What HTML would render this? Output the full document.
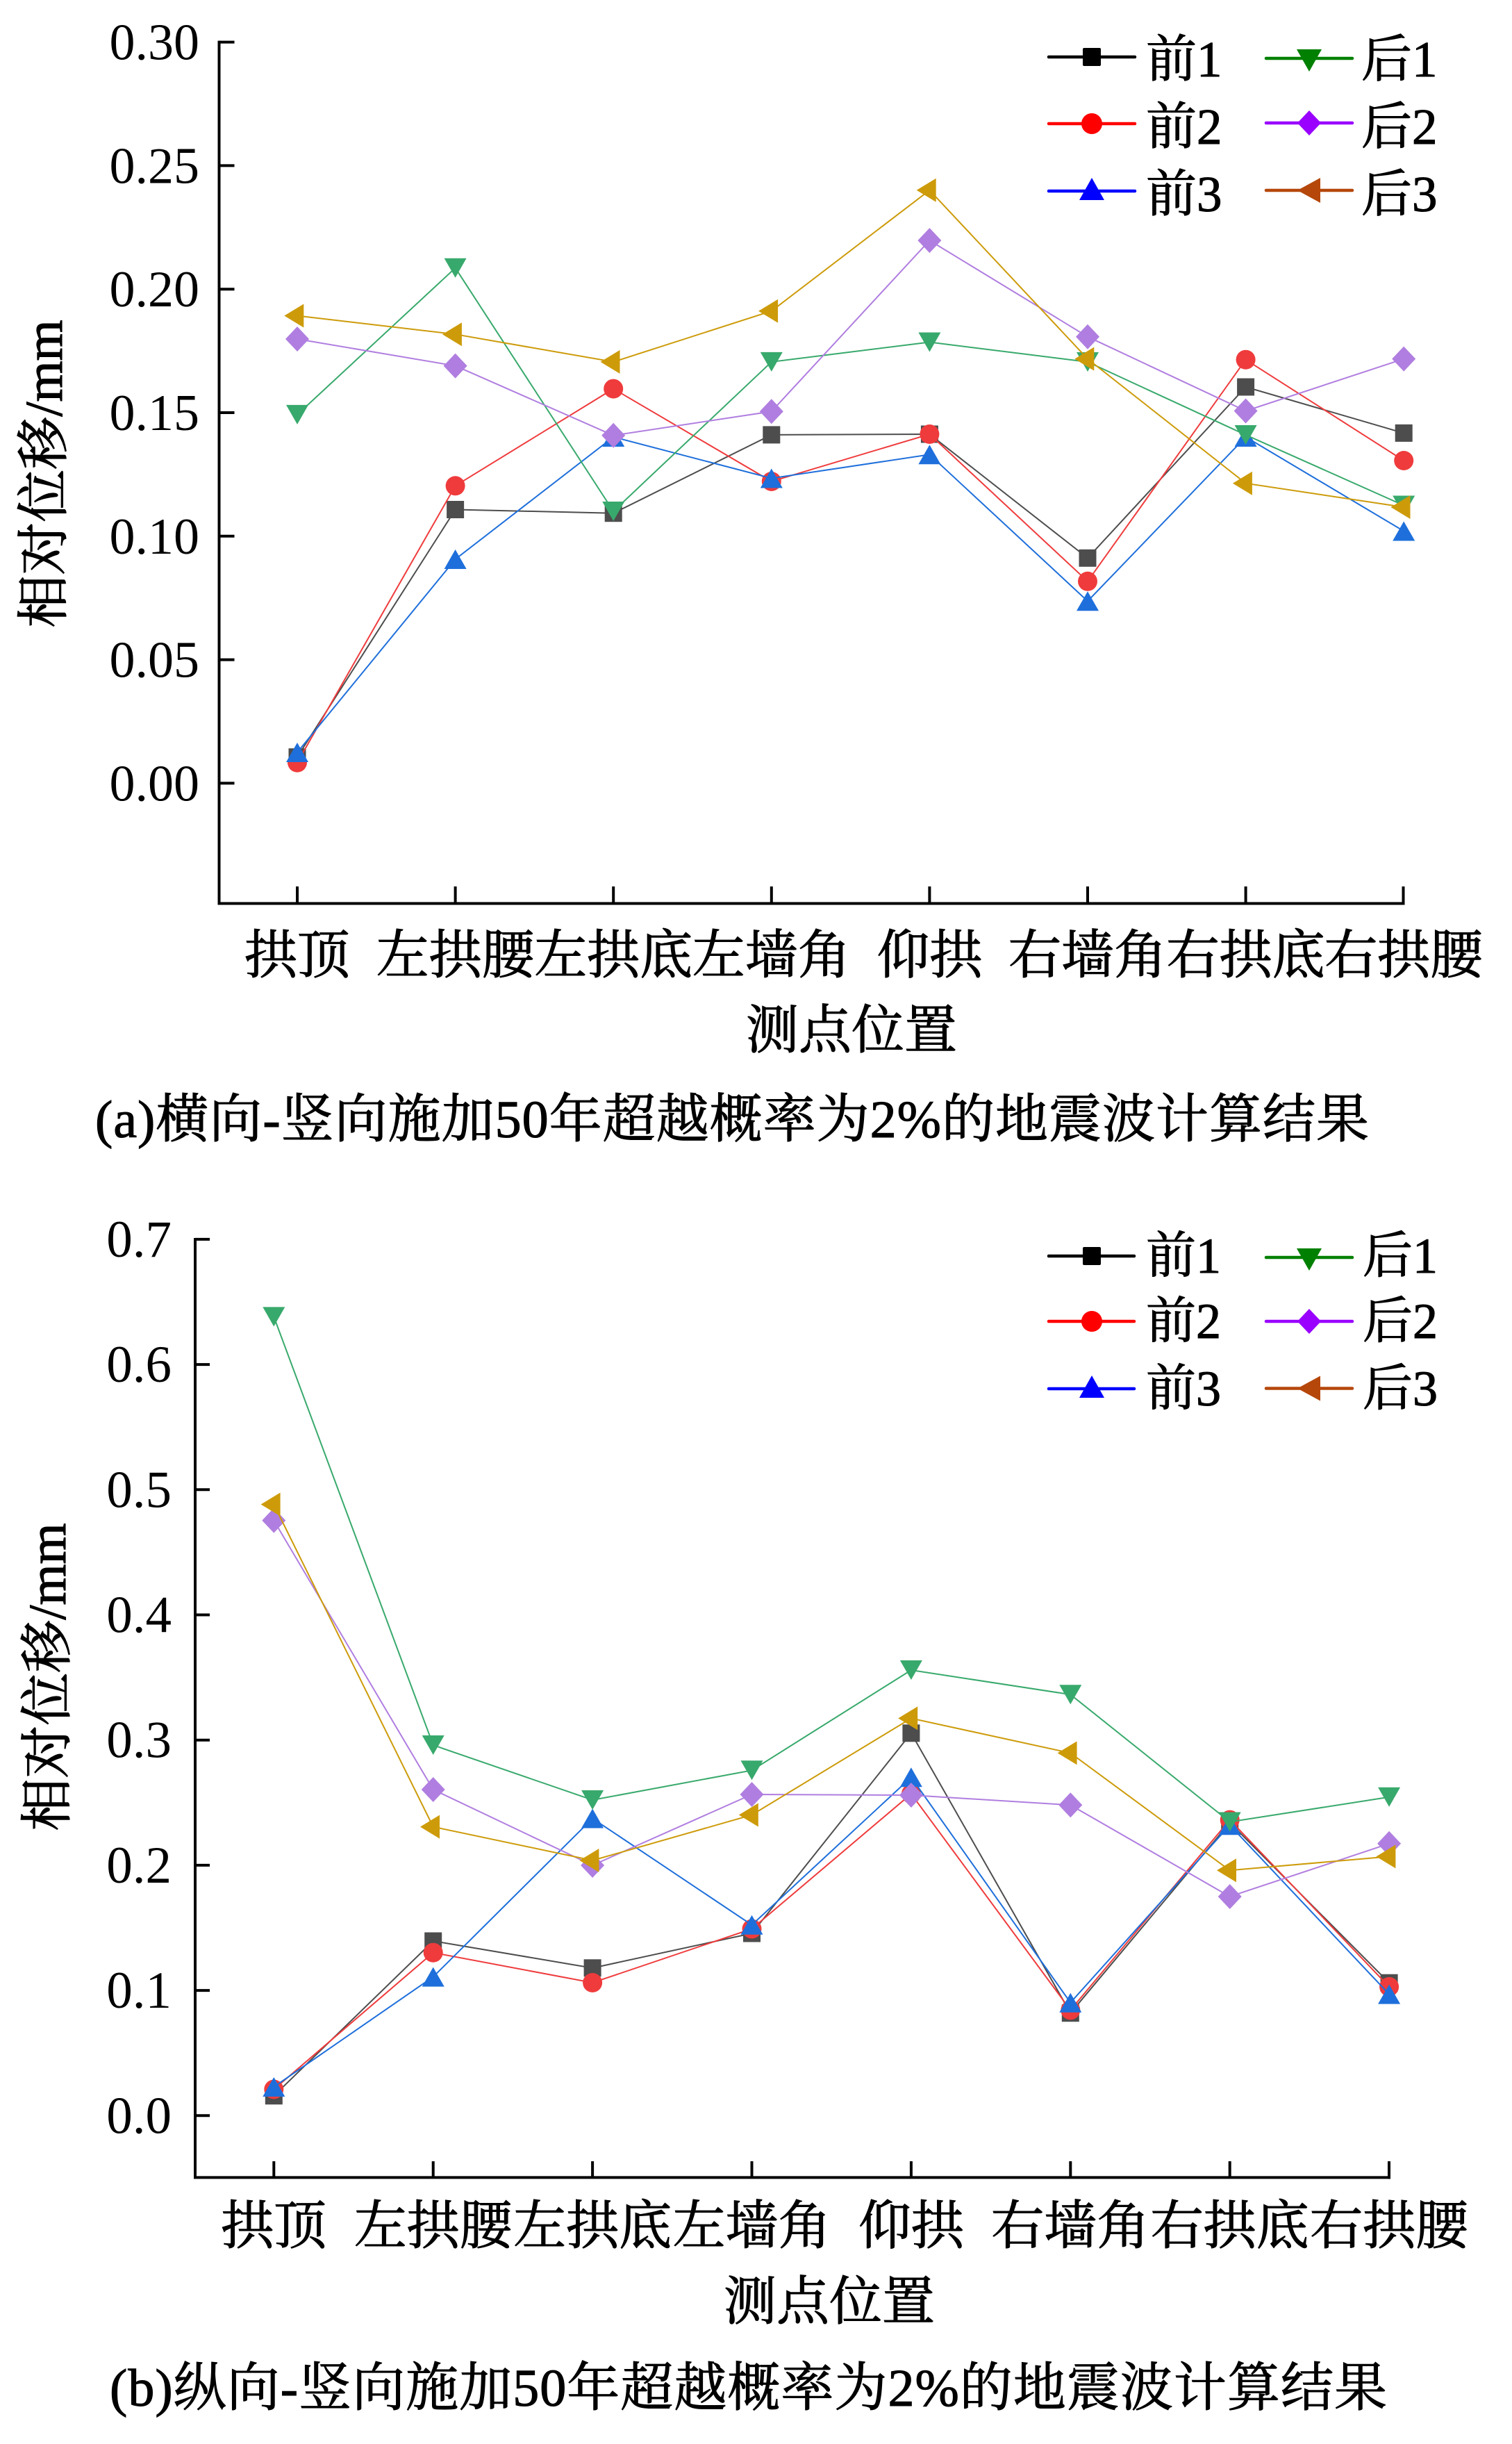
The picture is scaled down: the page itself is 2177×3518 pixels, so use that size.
<!DOCTYPE html>
<html><head><meta charset="utf-8"><style>
html,body{margin:0;padding:0;background:#fff}
svg{display:block}
text{font-family:"Liberation Serif","Noto Serif CJK SC",serif;fill:#000}
.cj{stroke:#000;stroke-width:1.1}
</style></head><body>
<svg xmlns="http://www.w3.org/2000/svg" xmlns:xlink="http://www.w3.org/1999/xlink" width="2177" height="3518" viewBox="0 0 2177 3518">
<defs>
<rect id="sq" x="-12.5" y="-12.5" width="25" height="25"/>
<circle id="ci" r="14"/>
<polygon id="tu" points="0,-14 16,14 -16,14"/>
<polygon id="td" points="-16,-14 16,-14 0,14"/>
<polygon id="di" points="0,-18 17,0 0,18 -17,0"/>
<polygon id="tl" points="-18.7,0 9.3,-17 9.3,17"/>
<rect id="lsq" x="-13" y="-13" width="26" height="26" rx="2"/>
<circle id="lci" r="15"/>
<polygon id="ltu" points="0,-17 18,15 -18,15"/>
<polygon id="ltd" points="-18,-15 18,-15 0,17"/>
<polygon id="ldi" points="0,-18 17,0 0,18 -17,0"/>
<polygon id="ltl" points="-17,0 16,-18 16,18"/>
</defs>
<rect width="2177" height="3518" fill="#fff"/>

<!-- ================= CHART A ================= -->
<g stroke="#000" stroke-width="4" fill="none">
<polyline points="315.5,58.6 315.5,1300.5 2022.5,1300.5"/>
<line x1="315.5" y1="60.6" x2="337.5" y2="60.6"/>
<line x1="315.5" y1="238.4" x2="337.5" y2="238.4"/>
<line x1="315.5" y1="416.2" x2="337.5" y2="416.2"/>
<line x1="315.5" y1="594" x2="337.5" y2="594"/>
<line x1="315.5" y1="771.8" x2="337.5" y2="771.8"/>
<line x1="315.5" y1="949.6" x2="337.5" y2="949.6"/>
<line x1="315.5" y1="1127.4" x2="337.5" y2="1127.4"/>
<line x1="428" y1="1300.5" x2="428" y2="1276"/>
<line x1="655.6" y1="1300.5" x2="655.6" y2="1276"/>
<line x1="883.2" y1="1300.5" x2="883.2" y2="1276"/>
<line x1="1110.8" y1="1300.5" x2="1110.8" y2="1276"/>
<line x1="1338.4" y1="1300.5" x2="1338.4" y2="1276"/>
<line x1="1566" y1="1300.5" x2="1566" y2="1276"/>
<line x1="1793.6" y1="1300.5" x2="1793.6" y2="1276"/>
<line x1="2020.5" y1="1302.5" x2="2020.5" y2="1276"/>
</g>
<g font-size="74" text-anchor="end">
<text x="287" y="85.6">0.30</text>
<text x="287" y="263.4">0.25</text>
<text x="287" y="441.2">0.20</text>
<text x="287" y="619">0.15</text>
<text x="287" y="796.8">0.10</text>
<text x="287" y="974.6">0.05</text>
<text x="287" y="1152.4">0.00</text>
</g>
<text class="cj" font-size="76" text-anchor="middle" transform="translate(89,682) rotate(-90)">相对位移/mm</text>
<g font-size="76" text-anchor="middle" class="cj">
<text x="428" y="1401">拱顶</text>
<text x="655.6" y="1401">左拱腰</text>
<text x="883.2" y="1401">左拱底</text>
<text x="1110.8" y="1401">左墙角</text>
<text x="1338.4" y="1401">仰拱</text>
<text x="1566" y="1401">右墙角</text>
<text x="1793.6" y="1401">右拱底</text>
<text x="2021.2" y="1401">右拱腰</text>
</g>
<text class="cj" font-size="76" text-anchor="middle" x="1226" y="1509">测点位置</text>
<text class="cj" font-size="76" x="137" y="1637" textLength="1834" lengthAdjust="spacing">(a)横向-竖向施加50年超越概率为2%的地震波计算结果</text>

<!-- series a -->
<polyline stroke="#4d4d4d" stroke-width="2" fill="none" points="428,1089.7 655.6,733.5 883.2,738.7 1110.8,625.9 1338.4,625 1566,803.3 1793.6,557 2021.2,623.4"/>
<g fill="#4d4d4d">
<use href="#sq" x="428" y="1089.7"/><use href="#sq" x="655.6" y="733.5"/><use href="#sq" x="883.2" y="738.7"/><use href="#sq" x="1110.8" y="625.9"/><use href="#sq" x="1338.4" y="625"/><use href="#sq" x="1566" y="803.3"/><use href="#sq" x="1793.6" y="557"/><use href="#sq" x="2021.2" y="623.4"/>
</g>
<polyline stroke="#ef3b3c" stroke-width="2" fill="none" points="428,1097.7 655.6,699.3 883.2,559.6 1110.8,693 1338.4,625 1566,836.8 1793.6,517.7 2021.2,663"/>
<g fill="#ef3b3c">
<use href="#ci" x="428" y="1097.7"/><use href="#ci" x="655.6" y="699.3"/><use href="#ci" x="883.2" y="559.6"/><use href="#ci" x="1110.8" y="693"/><use href="#ci" x="1338.4" y="625"/><use href="#ci" x="1566" y="836.8"/><use href="#ci" x="1793.6" y="517.7"/><use href="#ci" x="2021.2" y="663"/>
</g>
<polyline stroke="#1e6fdb" stroke-width="2" fill="none" points="428,1083 655.6,805 883.2,629 1110.8,688.5 1338.4,654.3 1566,865.3 1793.6,629 2021.2,764.5"/>
<g fill="#1e6fdb">
<use href="#tu" x="428" y="1083"/><use href="#tu" x="655.6" y="805"/><use href="#tu" x="883.2" y="629"/><use href="#tu" x="1110.8" y="688.5"/><use href="#tu" x="1338.4" y="654.3"/><use href="#tu" x="1566" y="865.3"/><use href="#tu" x="1793.6" y="629"/><use href="#tu" x="2021.2" y="764.5"/>
</g>
<polyline stroke="#38a96c" stroke-width="2" fill="none" points="428,596.9 655.6,385.7 883.2,736 1110.8,520.9 1338.4,492.5 1566,521 1793.6,626 2021.2,727.5"/>
<g fill="#38a96c">
<use href="#td" x="428" y="596.9"/><use href="#td" x="655.6" y="385.7"/><use href="#td" x="883.2" y="736"/><use href="#td" x="1110.8" y="520.9"/><use href="#td" x="1338.4" y="492.5"/><use href="#td" x="1566" y="521"/><use href="#td" x="1793.6" y="626"/><use href="#td" x="2021.2" y="727.5"/>
</g>
<polyline stroke="#b07ee0" stroke-width="2" fill="none" points="428,488 655.6,526.6 883.2,626.8 1110.8,592.3 1338.4,346.1 1566,484.7 1793.6,591.5 2021.2,516.6"/>
<g fill="#b07ee0">
<use href="#di" x="428" y="488"/><use href="#di" x="655.6" y="526.6"/><use href="#di" x="883.2" y="626.8"/><use href="#di" x="1110.8" y="592.3"/><use href="#di" x="1338.4" y="346.1"/><use href="#di" x="1566" y="484.7"/><use href="#di" x="1793.6" y="591.5"/><use href="#di" x="2021.2" y="516.6"/>
</g>
<polyline stroke="#cd9b0a" stroke-width="2" fill="none" points="428,454.5 655.6,481.2 883.2,520.9 1110.8,447.7 1338.4,273.8 1566,516.6 1793.6,695.7 2021.2,730"/>
<g fill="#cd9b0a">
<use href="#tl" x="428" y="454.5"/><use href="#tl" x="655.6" y="481.2"/><use href="#tl" x="883.2" y="520.9"/><use href="#tl" x="1110.8" y="447.7"/><use href="#tl" x="1338.4" y="273.8"/><use href="#tl" x="1566" y="516.6"/><use href="#tl" x="1793.6" y="695.7"/><use href="#tl" x="2021.2" y="730"/>
</g>

<!-- legend a -->
<g stroke-width="4.5" stroke-linecap="round">
<line x1="1510" y1="82" x2="1634" y2="82" stroke="#000"/>
<line x1="1510" y1="178" x2="1634" y2="178" stroke="#f00"/>
<line x1="1510" y1="275" x2="1634" y2="275" stroke="#00f"/>
<line x1="1823" y1="84" x2="1947" y2="84" stroke="#008000"/>
<line x1="1823" y1="177" x2="1947" y2="177" stroke="#9900ff"/>
<line x1="1823" y1="274" x2="1947" y2="274" stroke="#b5470b"/>
</g>
<use href="#lsq" x="1572" y="82" fill="#000"/>
<use href="#lci" x="1572" y="178" fill="#f00"/>
<use href="#ltu" x="1572" y="273" fill="#00f"/>
<use href="#ltd" x="1885" y="86" fill="#008000"/>
<use href="#ldi" x="1885" y="177" fill="#9900ff"/>
<use href="#ltl" x="1885" y="274" fill="#b5470b"/>
<g font-size="73" class="cj">
<text x="1650" y="110">前1</text>
<text x="1650" y="207">前2</text>
<text x="1650" y="304">前3</text>
<text x="1960" y="110">后1</text>
<text x="1960" y="207">后2</text>
<text x="1960" y="304">后3</text>
</g>

<!-- ================= CHART B ================= -->
<g stroke="#000" stroke-width="4" fill="none">
<polyline points="281,1782 281,3134.4 2002,3134.4"/>
<line x1="281" y1="1783.9" x2="302" y2="1783.9"/>
<line x1="281" y1="1964.1" x2="302" y2="1964.1"/>
<line x1="281" y1="2144.3" x2="302" y2="2144.3"/>
<line x1="281" y1="2324.5" x2="302" y2="2324.5"/>
<line x1="281" y1="2504.7" x2="302" y2="2504.7"/>
<line x1="281" y1="2684.9" x2="302" y2="2684.9"/>
<line x1="281" y1="2865.1" x2="302" y2="2865.1"/>
<line x1="281" y1="3045.3" x2="302" y2="3045.3"/>
<line x1="394.3" y1="3134.4" x2="394.3" y2="3111"/>
<line x1="623.7" y1="3134.4" x2="623.7" y2="3111"/>
<line x1="853.1" y1="3134.4" x2="853.1" y2="3111"/>
<line x1="1082.5" y1="3134.4" x2="1082.5" y2="3111"/>
<line x1="1311.9" y1="3134.4" x2="1311.9" y2="3111"/>
<line x1="1541.3" y1="3134.4" x2="1541.3" y2="3111"/>
<line x1="1770.7" y1="3134.4" x2="1770.7" y2="3111"/>
<line x1="2000" y1="3136.4" x2="2000" y2="3111"/>
</g>
<g font-size="75" text-anchor="end">
<text x="247" y="1808.9">0.7</text>
<text x="247" y="1989.1">0.6</text>
<text x="247" y="2169.3">0.5</text>
<text x="247" y="2349.5">0.4</text>
<text x="247" y="2529.7">0.3</text>
<text x="247" y="2709.9">0.2</text>
<text x="247" y="2890.1">0.1</text>
<text x="247" y="3070.3">0.0</text>
</g>
<text class="cj" font-size="76" text-anchor="middle" transform="translate(94,2414) rotate(-90)">相对位移/mm</text>
<g font-size="76" text-anchor="middle" class="cj">
<text x="394.3" y="3230">拱顶</text>
<text x="623.7" y="3230">左拱腰</text>
<text x="853.1" y="3230">左拱底</text>
<text x="1082.5" y="3230">左墙角</text>
<text x="1311.9" y="3230">仰拱</text>
<text x="1541.3" y="3230">右墙角</text>
<text x="1770.7" y="3230">右拱底</text>
<text x="2000.1" y="3230">右拱腰</text>
</g>
<text class="cj" font-size="76" text-anchor="middle" x="1194" y="3339">测点位置</text>
<text class="cj" font-size="76" x="158" y="3463" textLength="1839" lengthAdjust="spacing">(b)纵向-竖向施加50年超越概率为2%的地震波计算结果</text>

<!-- series b -->
<polyline stroke="#4d4d4d" stroke-width="2" fill="none" points="394.3,3016.8 623.7,2794 853.1,2832.8 1082.5,2783 1311.9,2494.8 1541.3,2897.7 1770.7,2623.6 2000.1,2854.2"/>
<g fill="#4d4d4d">
<use href="#sq" x="394.3" y="3016.8"/><use href="#sq" x="623.7" y="2794"/><use href="#sq" x="853.1" y="2832.8"/><use href="#sq" x="1082.5" y="2783"/><use href="#sq" x="1311.9" y="2494.8"/><use href="#sq" x="1541.3" y="2897.7"/><use href="#sq" x="1770.7" y="2623.6"/><use href="#sq" x="2000.1" y="2854.2"/>
</g>
<polyline stroke="#ef3b3c" stroke-width="2" fill="none" points="394.3,3007.5 623.7,2810.7 853.1,2854 1082.5,2776.5 1311.9,2582.2 1541.3,2893.4 1770.7,2619.6 2000.1,2859.9"/>
<g fill="#ef3b3c">
<use href="#ci" x="394.3" y="3007.5"/><use href="#ci" x="623.7" y="2810.7"/><use href="#ci" x="853.1" y="2854"/><use href="#ci" x="1082.5" y="2776.5"/><use href="#ci" x="1311.9" y="2582.2"/><use href="#ci" x="1541.3" y="2893.4"/><use href="#ci" x="1770.7" y="2619.6"/><use href="#ci" x="2000.1" y="2859.9"/>
</g>
<polyline stroke="#1e6fdb" stroke-width="2" fill="none" points="394.3,3004 623.7,2845.6 853.1,2617.5 1082.5,2770.8 1311.9,2558.3 1541.3,2882.7 1770.7,2627.2 2000.1,2870.6"/>
<g fill="#1e6fdb">
<use href="#tu" x="394.3" y="3004"/><use href="#tu" x="623.7" y="2845.6"/><use href="#tu" x="853.1" y="2617.5"/><use href="#tu" x="1082.5" y="2770.8"/><use href="#tu" x="1311.9" y="2558.3"/><use href="#tu" x="1541.3" y="2882.7"/><use href="#tu" x="1770.7" y="2627.2"/><use href="#tu" x="2000.1" y="2870.6"/>
</g>
<polyline stroke="#38a96c" stroke-width="2" fill="none" points="394.3,1895.4 623.7,2512 853.1,2591 1082.5,2548.3 1311.9,2404 1541.3,2439.2 1770.7,2622.5 2000.1,2586.8"/>
<g fill="#38a96c">
<use href="#td" x="394.3" y="1895.4"/><use href="#td" x="623.7" y="2512"/><use href="#td" x="853.1" y="2591"/><use href="#td" x="1082.5" y="2548.3"/><use href="#td" x="1311.9" y="2404"/><use href="#td" x="1541.3" y="2439.2"/><use href="#td" x="1770.7" y="2622.5"/><use href="#td" x="2000.1" y="2586.8"/>
</g>
<polyline stroke="#b07ee0" stroke-width="2" fill="none" points="394.3,2188.6 623.7,2576 853.1,2685 1082.5,2583 1311.9,2584 1541.3,2598.2 1770.7,2730 2000.1,2653.8"/>
<g fill="#b07ee0">
<use href="#di" x="394.3" y="2188.6"/><use href="#di" x="623.7" y="2576"/><use href="#di" x="853.1" y="2685"/><use href="#di" x="1082.5" y="2583"/><use href="#di" x="1311.9" y="2584"/><use href="#di" x="1541.3" y="2598.2"/><use href="#di" x="1770.7" y="2730"/><use href="#di" x="2000.1" y="2653.8"/>
</g>
<polyline stroke="#cd9b0a" stroke-width="2" fill="none" points="394.3,2165.5 623.7,2629.6 853.1,2678 1082.5,2612.5 1311.9,2473.4 1541.3,2523.4 1770.7,2692.3 2000.1,2672.4"/>
<g fill="#cd9b0a">
<use href="#tl" x="394.3" y="2165.5"/><use href="#tl" x="623.7" y="2629.6"/><use href="#tl" x="853.1" y="2678"/><use href="#tl" x="1082.5" y="2612.5"/><use href="#tl" x="1311.9" y="2473.4"/><use href="#tl" x="1541.3" y="2523.4"/><use href="#tl" x="1770.7" y="2692.3"/><use href="#tl" x="2000.1" y="2672.4"/>
</g>

<!-- legend b -->
<g stroke-width="4.5" stroke-linecap="round">
<line x1="1510" y1="1808" x2="1633" y2="1808" stroke="#000"/>
<line x1="1510" y1="1902" x2="1633" y2="1902" stroke="#f00"/>
<line x1="1510" y1="1999" x2="1633" y2="1999" stroke="#00f"/>
<line x1="1823" y1="1810" x2="1947" y2="1810" stroke="#008000"/>
<line x1="1823" y1="1902" x2="1947" y2="1902" stroke="#9900ff"/>
<line x1="1823" y1="1998.5" x2="1947" y2="1998.5" stroke="#b5470b"/>
</g>
<use href="#lsq" x="1572" y="1808" fill="#000"/>
<use href="#lci" x="1572" y="1902" fill="#f00"/>
<use href="#ltu" x="1572" y="1997" fill="#00f"/>
<use href="#ltd" x="1885" y="1812" fill="#008000"/>
<use href="#ldi" x="1885" y="1902" fill="#9900ff"/>
<use href="#ltl" x="1885" y="1998.5" fill="#b5470b"/>
<g font-size="72" class="cj">
<text x="1650" y="1832">前1</text>
<text x="1650" y="1926">前2</text>
<text x="1650" y="2023">前3</text>
<text x="1962" y="1832">后1</text>
<text x="1962" y="1926">后2</text>
<text x="1962" y="2023">后3</text>
</g>
</svg>
</body></html>
